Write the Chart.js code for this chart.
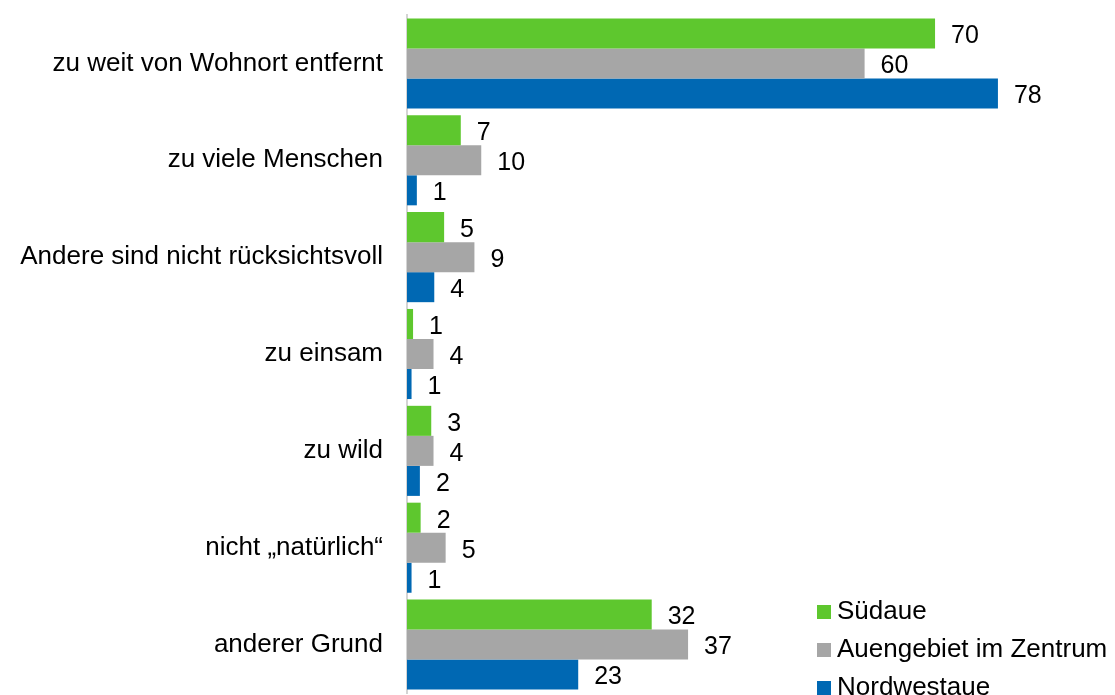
<!DOCTYPE html>
<html>
<head>
<meta charset="utf-8">
<script src="https://cdn.jsdelivr.net/npm/chart.js@4/dist/chart.umd.min.js"></script>
<style>
  body { margin: 0; background: #fff; font-family: "Liberation Sans", Arial, sans-serif; }
  #wrap { position: relative; width: 1115px; height: 695px; }
  #legend { position: absolute; left: 817px; top: 591px; font-size: 26px; color: #000; }
  #legend div { height: 38px; line-height: 38px; white-space: nowrap; }
  #legend span { display: inline-block; width: 14px; height: 14px; margin-right: 6px; vertical-align: 0px; }
</style>
</head>
<body>
<div id="wrap">
  <canvas id="myChart" width="1115" height="695"></canvas>
  <div id="legend"></div>
</div>
<script>
const categories = ['zu weit von Wohnort entfernt', 'zu viele Menschen', 'Andere sind nicht rücksichtsvoll', 'zu einsam', 'zu wild', 'nicht „natürlich“', 'anderer Grund'];
const seriesNames = ['Südaue', 'Auengebiet im Zentrum', 'Nordwestaue'];
const suedaue = [69.7, 7.1, 4.9, 0.8, 3.2, 1.8, 32.3];
const zentrum = [60.4, 9.8, 8.9, 3.5, 3.5, 5.1, 37.1];
const nordwest = [78.0, 1.3, 3.6, 0.6, 1.7, 0.6, 22.6];
const colors = ['#5EC72E', '#A6A6A6', '#0068B3'];

// value labels next to the bar ends
const valueLabels = {
  id: 'valueLabels',
  afterDatasetsDraw(chart) {
    const ctx = chart.ctx;
    ctx.save();
    ctx.font = '25px "Liberation Sans", Arial, sans-serif';
    ctx.fillStyle = '#000';
    ctx.textBaseline = 'middle';
    ctx.textAlign = 'left';
    chart.data.datasets.forEach((ds, i) => {
      chart.getDatasetMeta(i).data.forEach((bar, j) => {
        ctx.fillText(Math.round(ds.data[j]), bar.x + 16, bar.y + 3);
      });
    });
    ctx.restore();
  }
};

const ctx1 = document.getElementById('myChart').getContext('2d');
new Chart(ctx1, {
  type: 'bar',
  data: {
    labels: categories,
    datasets: [
      { label: seriesNames[0], data: suedaue, backgroundColor: colors[0] },
      { label: seriesNames[1], data: zentrum, backgroundColor: colors[1] },
      { label: seriesNames[2], data: nordwest, backgroundColor: colors[2] }
    ]
  },
  options: {
    indexAxis: 'y',
    responsive: false,
    animation: false,
    layout: { padding: { top: 15, bottom: 2, right: 11, left: 0 } },
    datasets: { bar: { categoryPercentage: 0.93, barPercentage: 1.0 } },
    scales: {
      x: { display: false, min: 0, max: 92 },
      y: {
        afterFit(scale) {
          scale.width = 407;
          scale.paddingTop = 0;
          scale.paddingBottom = 0;
        },
        grid: { display: false, drawTicks: false },
        border: { display: true, color: '#D4D4D4', width: 2 },
        ticks: {
          padding: 24,
          color: '#000',
          font: { family: '"Liberation Sans", Arial, sans-serif', size: 26 }
        }
      }
    },
    plugins: {
      legend: { display: false },
      tooltip: { enabled: false }
    }
  },
  plugins: [valueLabels]
});

const legendEl = document.getElementById('legend');
seriesNames.forEach((name, i) => {
  const row = document.createElement('div');
  const box = document.createElement('span');
  box.style.background = colors[i];
  row.appendChild(box);
  row.appendChild(document.createTextNode(name));
  legendEl.appendChild(row);
});
</script>
</body>
</html>
